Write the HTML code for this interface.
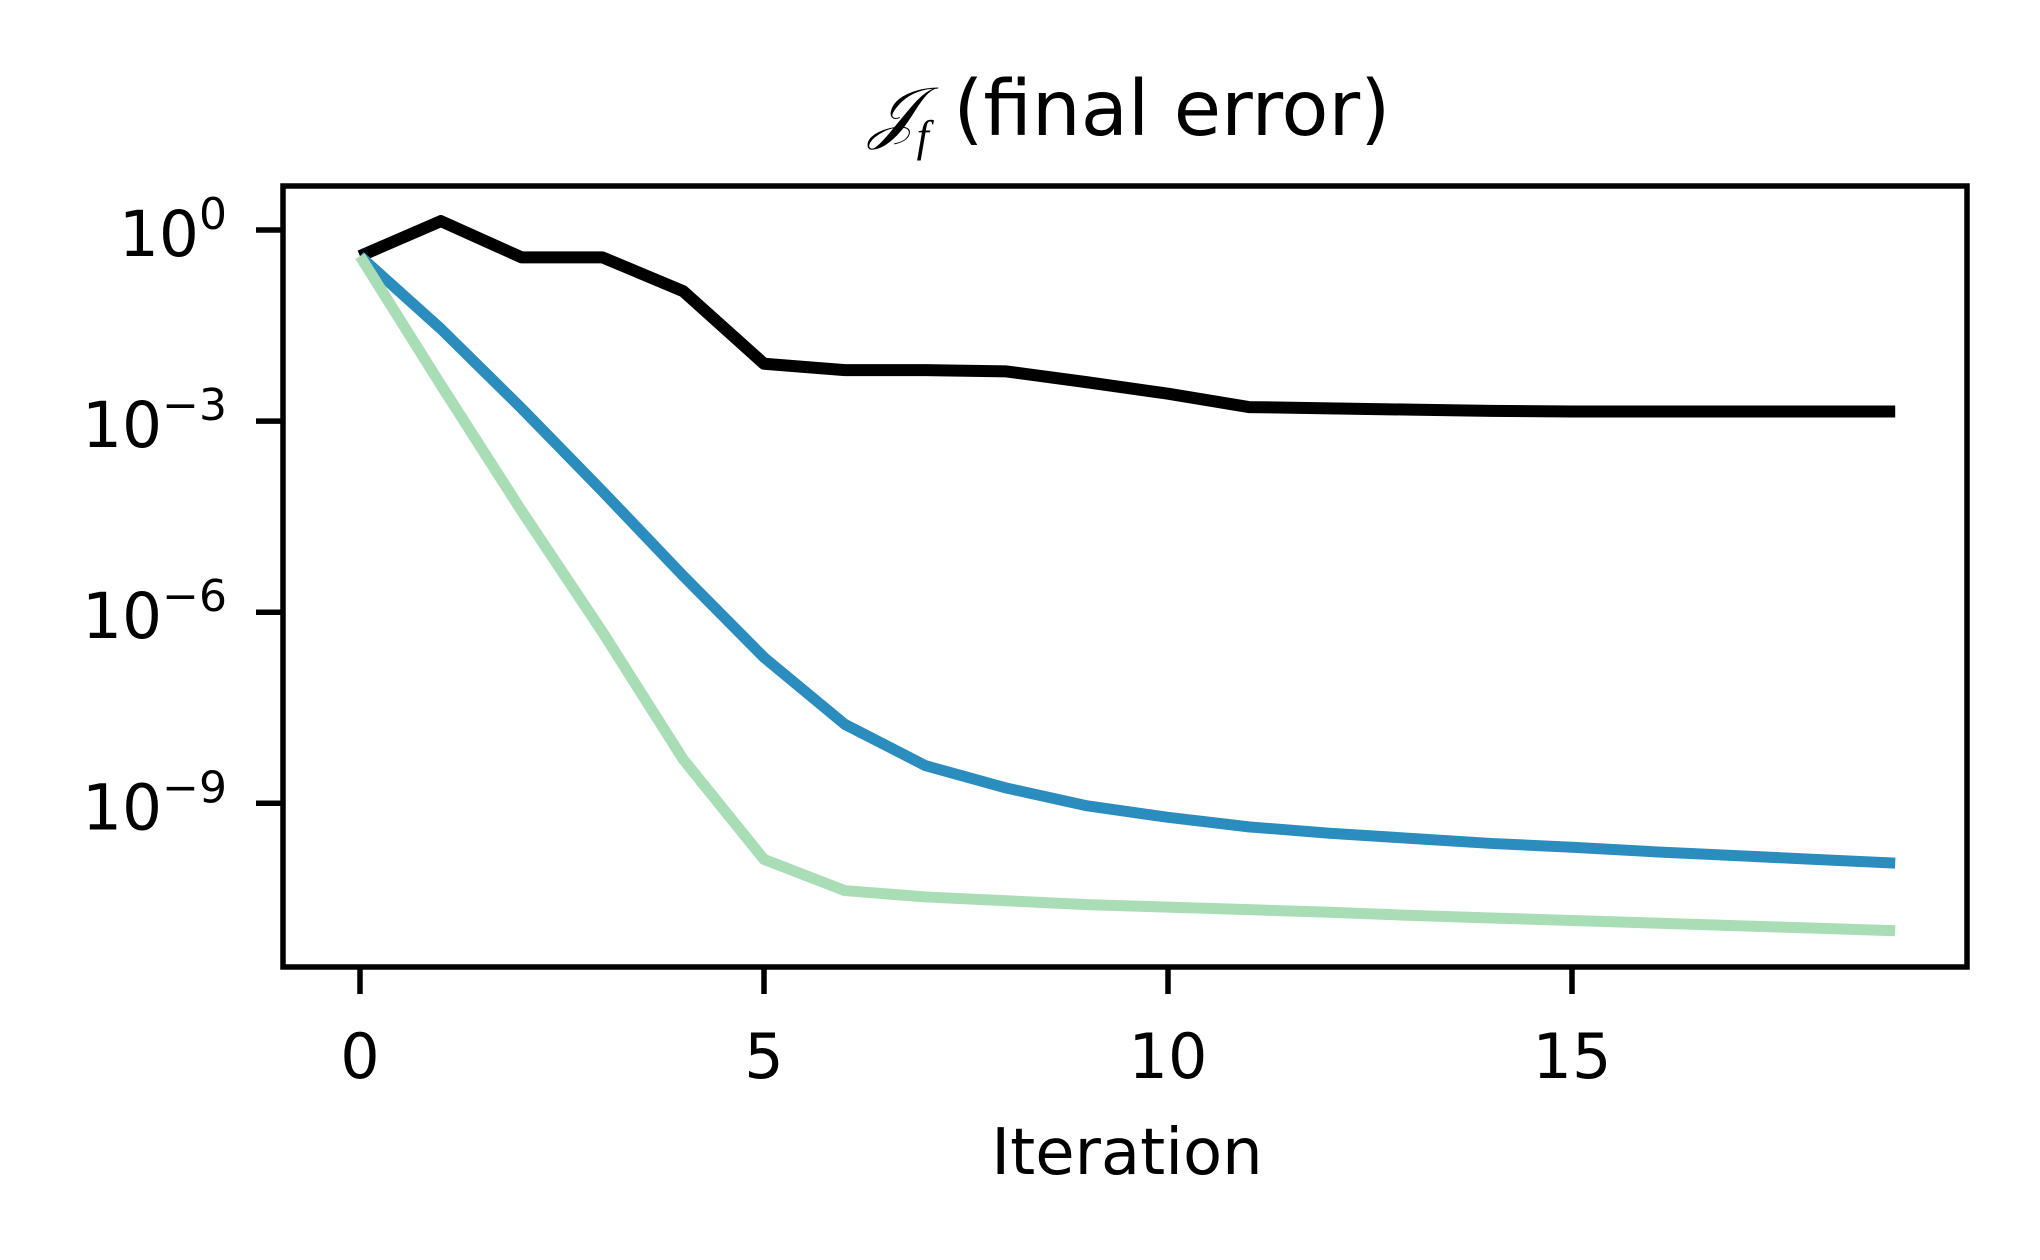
<!DOCTYPE html>
<html><head><meta charset="utf-8"><style>
body{margin:0;background:#fff;}
svg{display:block;font-family:"DejaVu Sans","Liberation Sans",sans-serif;}
</style></head><body>
<svg id="chart" width="2040" height="1260" viewBox="0 0 2040 1260" xmlns="http://www.w3.org/2000/svg">
<rect width="2040" height="1260" fill="#fff"/>
<text x="1130" y="135" font-size="77" text-anchor="middle"><tspan font-family="Liberation Serif,serif" font-style="italic" font-size="68">𝒥</tspan><tspan font-size="44" dy="16" font-style="italic" font-family="Liberation Serif,serif">f</tspan><tspan dy="-16"> (final error)</tspan></text>
<g id="plot"></g>
<rect x="283" y="186" width="1684" height="781" fill="none" stroke="#000" stroke-width="5.5"/>
<text x="1127" y="1174" font-size="64" text-anchor="middle">Iteration</text>
</svg>
<script>
const iterations=[0,1,2,3,4,5,6,7,8,9,10,11,12,13,14,15,16,17,18,19];
const blackLog=[-0.41,0.14,-0.43,-0.43,-0.96,-2.1,-2.2,-2.2,-2.22,-2.39,-2.57,-2.78,-2.8,-2.82,-2.84,-2.85,-2.85,-2.85,-2.85,-2.85];
const blueLog=[-0.41,-1.55,-2.8,-4.1,-5.43,-6.71,-7.76,-8.41,-8.76,-9.04,-9.22,-9.37,-9.47,-9.55,-9.63,-9.69,-9.76,-9.82,-9.88,-9.94];
const greenLog=[-0.41,-2.43,-4.41,-6.31,-8.31,-9.88,-10.37,-10.47,-10.53,-10.59,-10.63,-10.67,-10.71,-10.76,-10.8,-10.84,-10.88,-10.92,-10.96,-11.0];
const xTicks=[0,5,10,15];
const yTicks=[0,-3,-6,-9];
const NS="http://www.w3.org/2000/svg";
const X=v=>360+v*80.8;
const Y=l=>230-l*63.7;
const g=document.getElementById('plot');
function mk(t,a){const e=document.createElementNS(NS,t);for(const k in a)e.setAttribute(k,a[k]);return e;}
xTicks.forEach(t=>{
  const l=mk('line',{x1:X(t),x2:X(t),y1:967,y2:994,stroke:'#000','stroke-width':5.5});
  
  
  g.appendChild(l);
  const tx=mk('text',{x:X(t),y:1078,'font-size':62,'text-anchor':'middle'});
  
  
  tx.textContent=t;g.appendChild(tx);
});
yTicks.forEach(t=>{
  const l=mk('line',{x1:256,x2:283,y1:Y(t),y2:Y(t),stroke:'#000','stroke-width':5.5});
  
  
  g.appendChild(l);
  const tx=mk('text',{x:227,y:Y(t)+26,'font-size':63,'text-anchor':'end'});
  
  
  tx.innerHTML='10<tspan font-size="44" dy="-27">'+(t===0?'0':'\u2212'+(-t))+'</tspan>';
  g.appendChild(tx);
});
function line(arr,color,w,name){
  const p=mk('polyline',{points:arr.map((v,i)=>X(iterations[i])+','+Y(v)).join(' '),fill:'none',stroke:color,'stroke-width':w,'stroke-linejoin':'round'});
  
  
  g.appendChild(p);
}
line(blackLog,'#000',12,'black-series-line');
line(blueLog,'#2b8cbe',11,'blue-series-line');
line(greenLog,'#a8ddb5',11,'green-series-line');
</script>
</body></html>
